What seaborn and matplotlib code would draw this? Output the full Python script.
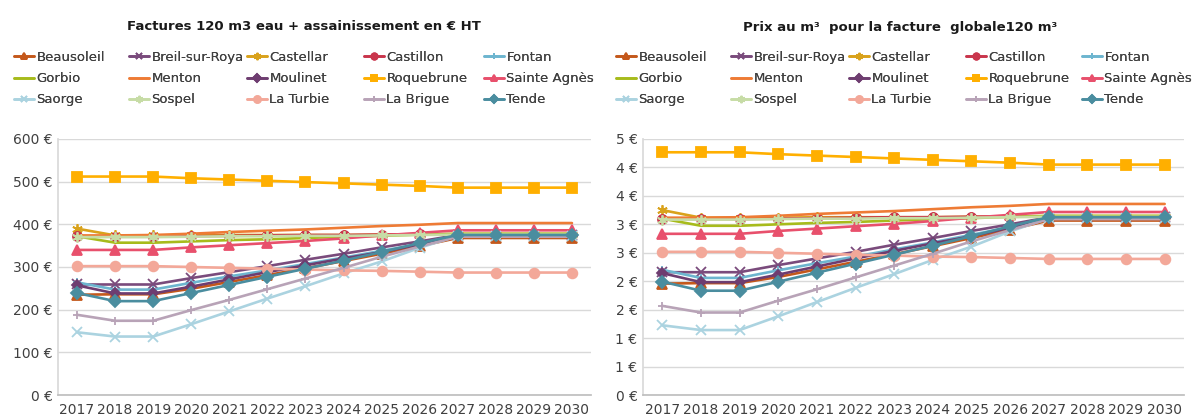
import numpy as np
import pandas as pd
import matplotlib
matplotlib.use("Agg")
import matplotlib.pyplot as plt
import seaborn as sns
from matplotlib.ticker import FuncFormatter, MultipleLocator

YEARS = list(range(2017, 2031))
VOLUME = 120  # m3 de la facture type

COMMUNES = ["Beausoleil", "Breil-sur-Roya", "Castellar", "Castillon", "Fontan",
            "Gorbio", "Menton", "Moulinet", "Roquebrune", "Sainte Agnès",
            "Saorge", "Sospel", "La Turbie", "La Brigue", "Tende"]

beausoleil = [235, 236, 236, 249, 265, 281, 297, 314, 331, 349, 368, 368, 368, 368]
breil = [259, 259, 259, 274, 288, 302, 317, 331, 346, 360, 375, 375, 375, 375]
castellar = [390, 374, 374, 374, 375, 375, 375, 375, 376, 376, 377, 377, 377, 377]
castillon = [372, 371, 371, 372, 373, 374, 375, 375, 376, 377, 376, 376, 376, 376]
fontan = [264, 247, 247, 263, 278, 292, 307, 322, 338, 354, 375, 375, 375, 375]
gorbio = [372, 357, 357, 360, 363, 365, 368, 371, 373, 376, 378, 378, 378, 378]
menton = [374, 374, 375, 378, 382, 385, 388, 392, 396, 399, 403, 403, 403, 403]
moulinet = [257, 238, 238, 254, 271, 288, 304, 320, 335, 353, 374, 374, 374, 374]
roquebrune = [512, 512, 512, 508, 505, 502, 499, 496, 493, 490, 486, 486, 486, 486]
sainte_agnes = [340, 340, 340, 346, 351, 356, 361, 367, 374, 380, 386, 386, 386, 386]
saorge = [147, 137, 137, 166, 196, 226, 255, 285, 313, 345, 373, 373, 373, 373]
sospel = [370, 370, 370, 371, 372, 372, 373, 373, 374, 375, 376, 376, 376, 376]
la_turbie = [302, 302, 302, 300, 298, 296, 294, 292, 291, 289, 287, 287, 287, 287]
la_brigue = [188, 174, 174, 199, 223, 248, 273, 298, 324, 348, 371, 371, 371, 371]
tende = [239, 220, 220, 239, 258, 277, 296, 315, 335, 356, 375, 375, 375, 375]

FACTURES = [beausoleil, breil, castellar, castillon, fontan, gorbio, menton, moulinet,
            roquebrune, sainte_agnes, saorge, sospel, la_turbie, la_brigue, tende]

COLORS = ["#C4581B", "#7A4B7C", "#D9A21B", "#C9354C", "#6DB5CF",
          "#A7BB1C", "#EE7B35", "#6E3D70", "#FFAF00", "#E8506C",
          "#ABD3E0", "#C7DCA6", "#F3A899", "#B8A3B7", "#4A8D9F"]
ASTER = (6, 2, 0)
MARKERS = ["^", "x", ASTER, "o", "+", None, None, "D", "s", "^",
           "x", ASTER, "o", "+", "D"]
MSIZES = [6.5, 6.5, 7.5, 6.5, 6, 0, 0, 5.5, 7, 6.5, 6.5, 7.5, 7, 6, 6]

rows = []
for name, vals in zip(COMMUNES, FACTURES):
    for y, v in zip(YEARS, vals):
        rows.append({"commune": name, "annee": y, "facture": v, "prix": v / VOLUME})
df = pd.DataFrame(rows)

sns.set_theme(style="white")
plt.rcParams["font.family"] = ["DejaVu Sans"]
TXT = "#404040"

fig = plt.figure(figsize=(11.92, 4.19), dpi=100)
ax1 = fig.add_axes([58 / 1192, 1 - 395 / 419, (591 - 58) / 1192, (395 - 139) / 419])
ax2 = fig.add_axes([643 / 1192, 1 - 395 / 419, (1184 - 643) / 1192, (395 - 139) / 419])


def draw(ax, col, ymax, step, fmt):
    handles = []
    for name, c, m, ms in zip(COMMUNES, COLORS, MARKERS, MSIZES):
        sub = df[df["commune"] == name]
        sns.lineplot(data=sub, x="annee", y=col, ax=ax, color=c, linewidth=1.9,
                     marker=m, markersize=ms, markeredgecolor=c, markeredgewidth=1.3,
                     label=name, legend=False)
        handles.append(ax.lines[-1])
    ax.set_xlim(YEARS[0] - 0.5, YEARS[-1] + 0.5)
    ax.set_ylim(0, ymax)
    ax.yaxis.set_major_locator(MultipleLocator(step))
    ax.yaxis.set_major_formatter(FuncFormatter(fmt))
    ax.set_xticks(YEARS)
    ax.set_xticklabels([str(y) for y in YEARS])
    ax.set_xticks(np.arange(YEARS[0] - 0.5, YEARS[-1] + 0.6, 1), minor=True)
    ax.tick_params(axis="x", which="major", length=0, pad=6, labelsize=10, colors=TXT)
    ax.tick_params(axis="x", which="minor", length=4, width=1, color="#BFBFBF", direction="out")
    ax.tick_params(axis="y", length=0, pad=4, labelsize=10, colors=TXT)
    ax.grid(axis="y", color="#D9D9D9", linewidth=1)
    ax.set_axisbelow(True)
    for s in ["top", "right"]:
        ax.spines[s].set_visible(False)
    ax.spines["left"].set_color("#D9D9D9")
    ax.spines["bottom"].set_color("#BFBFBF")
    ax.set_xlabel("")
    ax.set_ylabel("")
    return handles


h1 = draw(ax1, "facture", 600, 100, lambda v, p: f"{v:.0f} €")
h2 = draw(ax2, "prix", 4.5, 0.5, lambda v, p: f"{int(np.floor(v + 0.5 + 1e-9))} €")

fig.text(304 / 1192, 1 - 27 / 419, "Factures 120 m3 eau + assainissement en € HT",
         ha="center", va="center", fontsize=9.5, fontweight="bold", color="#1a1a1a")
fig.text(900 / 1192, 1 - 27 / 419, "Prix au m³  pour la facture  globale120 m³",
         ha="center", va="center", fontsize=9.5, fontweight="bold", color="#1a1a1a")


def legend_cols(handles, xs):
    for c, x in enumerate(xs):
        hs = [handles[r * 5 + c] for r in range(3)]
        labs = [COMMUNES[r * 5 + c] for r in range(3)]
        leg = fig.legend(hs, labs, loc="upper left", bbox_to_anchor=(x / 1192, 1 - 51 / 419),
                         frameon=False, fontsize=9.5, handlelength=1.55, handletextpad=0.15,
                         borderpad=0, borderaxespad=0, labelspacing=0.62, labelcolor=TXT,
                         markerscale=0.7)
        fig.add_artist(leg)


legend_cols(h1, [14, 129, 247, 364, 484])
legend_cols(h2, [616, 731, 849, 966, 1082])

fig.savefig("out.png", dpi=100)
